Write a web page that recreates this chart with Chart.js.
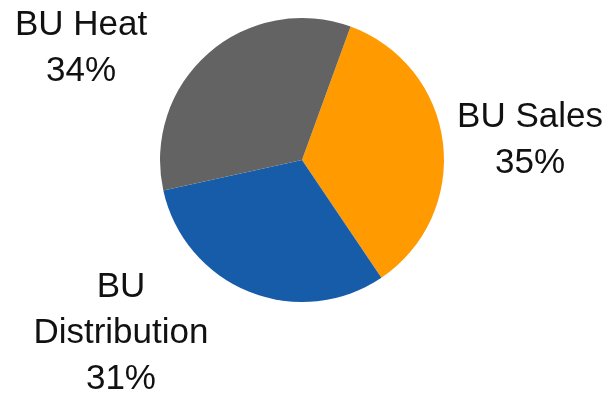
<!DOCTYPE html>
<html>
<head>
<meta charset="utf-8">
<script src="https://cdn.jsdelivr.net/npm/chart.js@4"></script>
<style>
  html, body { margin: 0; padding: 0; background: #fff; }
</style>
</head>
<body>
<canvas id="myChart" width="608" height="393"></canvas>
<script>
// data
var labels = ['BU Sales', 'BU Distribution', 'BU Heat'];
var shares = [35, 31, 34];
var colors = ['#FF9A00', '#175CA8', '#636363'];

// label text broken on lines, placed relative to pie centre (in radii)
var labelLines = [['BU Sales', '35%'], ['BU', 'Distribution', '31%'], ['BU Heat', '34%']];
var labelPos = [[1.606, -0.232], [-1.275, 0.965], [-1.556, -0.880]];

var sliceLabels = {
	id: 'sliceLabels',
	afterDatasetsDraw: function(chart) {
		var ctx = chart.ctx;
		var arcs = chart.getDatasetMeta(0).data;
		ctx.save();
		ctx.font = '35px "Liberation Sans", Arial, sans-serif';
		ctx.fillStyle = '#111';
		ctx.textAlign = 'center';
		ctx.textBaseline = 'alphabetic';
		arcs.forEach(function(arc, i) {
			var r = arc.outerRadius;
			var x = arc.x + labelPos[i][0] * r;
			var y = arc.y + labelPos[i][1] * r;
			labelLines[i].forEach(function(line, j) {
				ctx.fillText(line, x, y + j * 46);
			});
		});
		ctx.restore();
	}
};

var ctx = document.getElementById('myChart').getContext('2d');
window.chart_main = new Chart(ctx, {
	type: 'pie',
	data: {
		labels: labels,
		datasets: [{
			data: shares,
			backgroundColor: colors,
			borderWidth: 0
		}]
	},
	options: {
		responsive: false,
		animation: false,
		devicePixelRatio: 1,
		rotation: 20,
		layout: {
			padding: { left: 160, right: 164, top: 18, bottom: 91 }
		},
		plugins: {
			legend: { display: false },
			tooltip: { enabled: false }
		}
	},
	plugins: [sliceLabels]
});
</script>
</body>
</html>
